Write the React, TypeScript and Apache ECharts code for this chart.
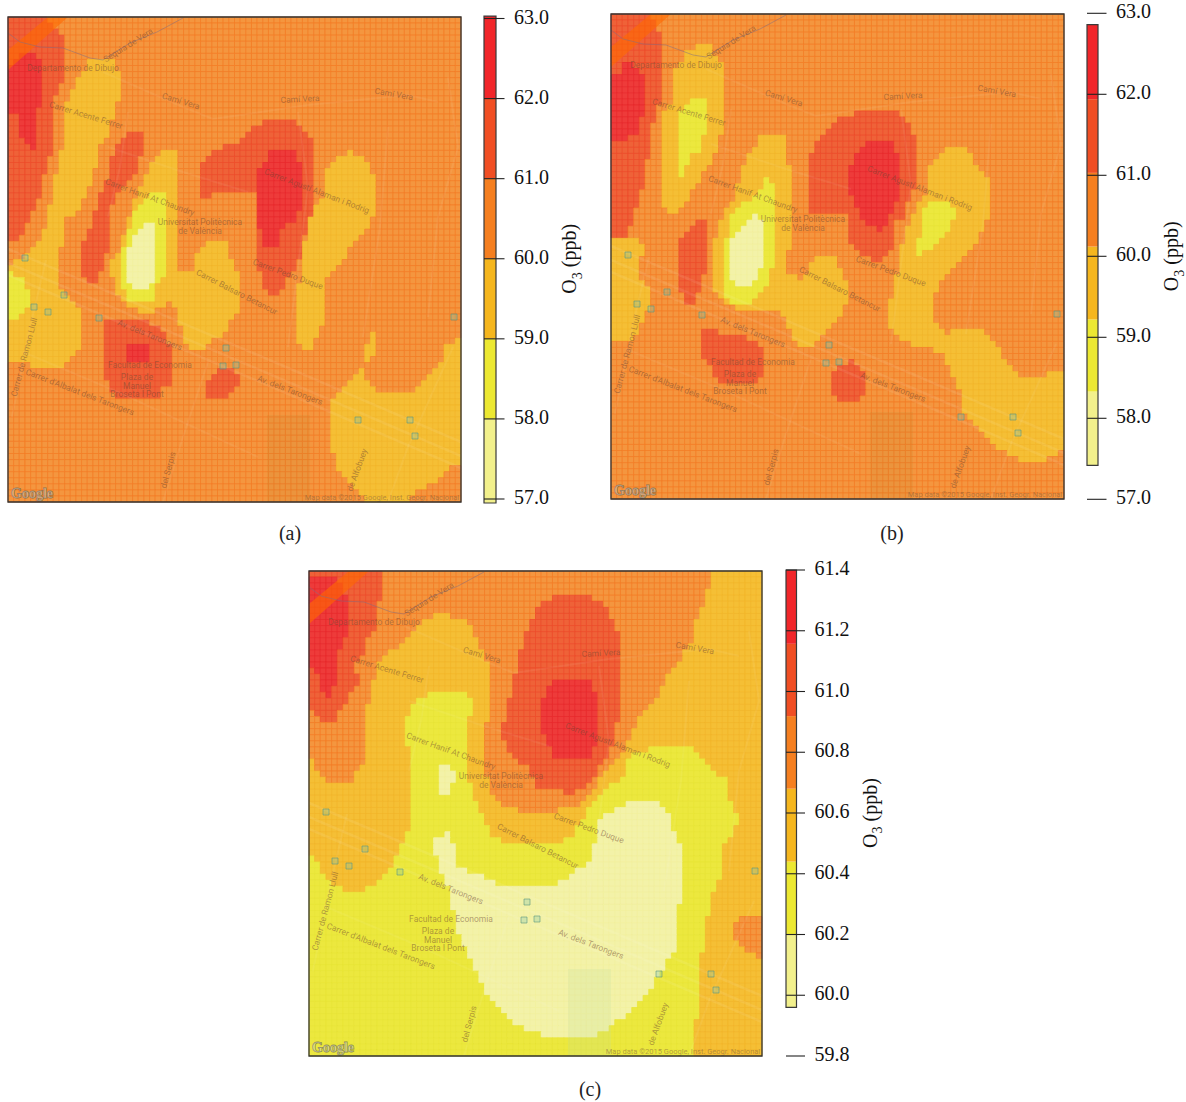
import React, { useEffect, useRef } from "react";
import * as echarts from "echarts";

type Pt = number[];
const MAP_W = 453;
const MAP_H = 485;
const CELLS = 80;

// ---------- contour outlines (map units, 0..453 / 0..485) ----------
const A_GOLD_WEST: Pt[] = [[84,42],[102,42],[107,48],[112,55],[112,83],[107,96],[102,115],[95,123],[90,146],[84,153],[84,170],[77,180],[72,193],[55,206],[55,225],[50,243],[50,268],[72,291],[72,333],[62,345],[55,351],[27,351],[22,346],[0,346],[0,248],[15,241],[34,223],[39,200],[45,180],[50,146],[55,126],[55,103],[62,78],[67,66],[74,55]];
const A_GOLD_SPOT: Pt[] = [[0,150],[6,150],[6,173],[0,173]];
const A_GOLD_CENTER: Pt[] = [[158,133],[169,133],[169,223],[169,256],[185,255],[185,243],[197,225],[219,225],[225,250],[232,258],[232,291],[219,313],[197,333],[182,333],[174,321],[170,290],[159,285],[145,298],[125,293],[107,273],[102,250],[112,233],[119,210],[129,180],[140,153],[147,143]];
const A_GOLD_EAST: Pt[] = [[342,133],[347,139],[357,141],[362,153],[368,165],[368,193],[362,210],[355,216],[349,225],[334,243],[322,256],[317,273],[317,303],[310,316],[304,333],[295,333],[290,328],[290,291],[293,243],[296,230],[301,206],[307,188],[317,180],[317,160],[324,146],[335,139]];
const A_GOLD_SPIKE: Pt[] = [[364,316],[368,316],[368,333],[362,346],[357,346],[357,328],[364,326]];
const A_GOLD_SOUTH: Pt[] = [[353,352],[357,361],[364,365],[369,376],[402,376],[420,360],[430,350],[439,330],[453,316],[453,446],[439,455],[427,465],[412,473],[402,485],[359,485],[350,473],[339,460],[329,450],[327,440],[324,433],[323,390],[329,378],[335,370],[345,360]];
const A_YELLOW_WEST: Pt[] = [[0,255],[12,260],[20,273],[20,293],[12,298],[9,303],[0,303]];
const A_YELLOW_CENTER: Pt[] = [[147,176],[158,176],[158,260],[147,271],[147,285],[124,285],[112,271],[112,250],[124,200],[135,183]];
const A_LIGHT_CENTER: Pt[] = [[135,206],[146,206],[146,265],[140,272],[124,272],[118,265],[118,250],[124,218],[135,210]];
const A_ORANGE_WEST: Pt[] = [[0,0],[39,0],[50,13],[56,23],[56,66],[50,66],[45,96],[45,130],[39,146],[35,170],[27,190],[20,203],[12,225],[0,225]];
const A_ORANGE_MID: Pt[] = [[119,115],[135,115],[135,133],[130,143],[130,156],[119,165],[107,181],[102,200],[102,225],[96,243],[94,256],[89,266],[79,266],[72,258],[72,243],[79,218],[84,205],[90,190],[95,173],[102,153],[107,133],[113,126]];
const A_ORANGE_EAST: Pt[] = [[192,156],[199,140],[212,133],[227,126],[232,126],[242,115],[260,102],[284,102],[295,108],[300,120],[306,126],[306,193],[300,206],[295,230],[289,250],[279,263],[270,278],[260,278],[255,263],[249,243],[249,178],[232,176],[209,176],[204,181],[192,181]];
const A_ORANGE_FAC: Pt[] = [[102,303],[130,303],[152,310],[164,330],[164,371],[152,371],[152,381],[107,381],[102,371],[95,358],[95,310]];
const A_ORANGE_SMALL: Pt[] = [[209,353],[225,353],[232,360],[232,371],[222,375],[220,382],[198,382],[198,365],[209,358]];
const A_RED_WEST: Pt[] = [[12,36],[27,36],[34,43],[34,90],[27,96],[27,130],[22,133],[15,123],[10,115],[9,96],[0,96],[0,55],[9,40]];
const A_RED_EAST: Pt[] = [[266,132],[284,132],[289,143],[295,151],[295,193],[284,206],[277,208],[271,218],[271,230],[255,230],[255,212],[249,212],[249,163],[255,146]];
const A_RED_FAC: Pt[] = [[119,328],[125,321],[130,328],[142,328],[142,346],[119,346]];

const B_GOLD_WEST: Pt[] = [[89,30],[100,30],[100,41],[116,48],[116,108],[111,118],[106,126],[106,136],[101,146],[94,159],[82,176],[77,189],[66,194],[66,199],[56,199],[49,186],[49,123],[54,99],[61,89],[61,71],[66,54],[77,36]];
const B_GOLD_LOW: Pt[] = [[0,224],[14,224],[30,225],[33,240],[26,256],[37,276],[37,299],[31,311],[26,316],[24,328],[0,328]];
const B_GOLD_CENTER: Pt[] = [[152,121],[174,121],[174,146],[180,156],[180,226],[174,256],[192,268],[196,256],[206,243],[222,243],[231,256],[236,269],[236,286],[231,304],[219,316],[202,333],[186,333],[174,304],[166,298],[156,298],[139,298],[127,296],[106,284],[101,266],[101,236],[117,189],[122,186],[134,149],[146,129]];
const B_GOLD_EAST: Pt[] = [[334,133],[356,133],[362,146],[373,159],[379,171],[379,206],[373,213],[367,229],[356,243],[339,256],[327,276],[322,289],[322,303],[334,319],[351,316],[372,316],[379,324],[389,336],[396,349],[407,359],[416,364],[436,364],[436,358],[453,358],[453,429],[446,441],[436,443],[436,449],[414,449],[402,443],[391,438],[379,426],[367,414],[351,394],[349,378],[340,359],[334,339],[312,334],[289,328],[282,319],[276,308],[276,296],[282,283],[282,266],[289,256],[289,239],[302,199],[316,176],[316,156]];
const B_YELLOW_WEST: Pt[] = [[77,86],[95,84],[95,119],[89,136],[84,139],[77,149],[71,163],[66,163],[66,106],[77,92]];
const B_YELLOW_CENTER: Pt[] = [[152,164],[162,169],[162,256],[157,269],[146,286],[139,291],[127,291],[117,286],[111,271],[111,256],[117,216],[122,199],[139,186],[152,173]];
const B_YELLOW_EAST: Pt[] = [[319,188],[341,188],[344,199],[339,216],[332,223],[326,233],[304,243],[304,233],[311,219],[311,203]];
const B_LIGHT_CENTER: Pt[] = [[141,199],[151,206],[151,256],[139,273],[124,273],[117,259],[117,233],[129,216],[141,206]];
const B_ORANGE_WEST: Pt[] = [[0,0],[38,0],[49,18],[49,90],[39,121],[39,135],[32,176],[26,189],[24,208],[14,224],[0,224]];
const B_ORANGE_MID: Pt[] = [[89,206],[95,208],[95,256],[89,276],[82,293],[77,293],[71,279],[66,279],[66,233],[77,219]];
const B_ORANGE_EAST: Pt[] = [[197,146],[206,131],[216,116],[229,103],[249,98],[282,97],[294,103],[299,114],[305,126],[305,173],[299,179],[294,203],[282,209],[282,236],[269,249],[256,244],[242,236],[236,213],[236,199],[197,199]];
const B_ORANGE_FAC: Pt[] = [[89,316],[106,316],[106,322],[134,322],[146,328],[151,334],[151,364],[146,371],[106,371],[106,364],[95,346],[89,333]];
const B_ORANGE_SMALL: Pt[] = [[237,346],[243,346],[243,353],[249,353],[254,359],[254,383],[248,383],[248,389],[226,389],[226,383],[220,383],[220,359],[226,353],[237,353]];
const B_RED_WEST: Pt[] = [[9,48],[21,48],[32,61],[32,103],[26,109],[26,121],[16,126],[4,126],[0,121],[0,66],[9,58]];
const B_RED_EAST: Pt[] = [[259,126],[277,126],[287,139],[287,186],[279,200],[279,213],[269,218],[259,213],[249,203],[242,183],[236,173],[236,159],[242,146],[252,136]];

const C_GOLD_MAIN: Pt[] = [[0,0],[453,0],[453,485],[385,485],[385,450],[391,449],[391,383],[397,382],[397,347],[403,346],[403,322],[408,321],[408,309],[414,304],[414,279],[419,269],[431,249],[418,222],[418,209],[403,199],[389,182],[379,176],[346,176],[323,186],[318,194],[314,206],[301,216],[288,229],[281,237],[274,249],[266,262],[254,272],[194,272],[181,262],[178,252],[164,222],[158,200],[158,149],[164,139],[164,126],[153,121],[124,121],[106,132],[101,139],[96,152],[96,169],[101,182],[101,249],[101,259],[91,279],[84,292],[73,309],[56,316],[56,321],[33,321],[33,316],[18,309],[6,286],[0,286]];
const C_ORANGE_MAIN: Pt[] = [[0,0],[403,0],[397,32],[391,44],[385,54],[385,66],[374,84],[368,96],[357,107],[351,127],[334,139],[328,152],[323,167],[311,186],[301,196],[284,219],[266,237],[228,242],[194,237],[181,222],[176,196],[176,159],[181,139],[181,96],[169,71],[158,48],[141,47],[138,42],[118,48],[106,59],[96,66],[89,77],[78,84],[68,97],[61,129],[56,152],[56,189],[48,199],[44,212],[21,212],[4,199],[1,169],[0,169]];
const C_ORANGE_EAST: Pt[] = [[431,346],[453,346],[453,389],[448,389],[448,382],[436,382],[431,374],[425,362],[425,352]];
const C_REDORANGE_WEST: Pt[] = [[0,0],[73,0],[73,32],[68,34],[68,61],[56,72],[56,82],[44,96],[51,107],[44,121],[39,129],[33,139],[26,151],[16,151],[11,146],[0,139]];
const C_REDORANGE_EAST: Pt[] = [[249,22],[278,22],[294,34],[306,52],[312,66],[312,146],[306,156],[304,176],[284,209],[266,222],[231,219],[218,197],[198,179],[193,162],[198,136],[204,116],[209,92],[215,72],[221,52],[231,36]];
const C_RED_WEST: Pt[] = [[0,4],[21,4],[33,17],[39,31],[39,66],[33,72],[28,86],[27,109],[21,126],[16,121],[11,121],[11,109],[0,96]];
const C_RED_EAST: Pt[] = [[278,108],[284,116],[289,126],[289,166],[284,187],[246,187],[238,172],[232,159],[232,132],[238,121],[249,108]];
const C_LIGHT_PATCH: Pt[] = [[130,194],[141,194],[141,201],[147,201],[147,212],[141,212],[141,224],[130,224]];
const C_LIGHT_BIG: Pt[] = [[124,267],[140,262],[146,279],[146,292],[151,299],[174,304],[184,311],[204,316],[241,316],[254,309],[264,304],[284,287],[289,249],[301,242],[323,231],[346,231],[356,241],[363,249],[368,269],[374,279],[374,326],[368,339],[368,382],[361,382],[358,394],[348,406],[341,419],[329,431],[318,444],[301,456],[283,467],[238,467],[211,456],[188,436],[174,416],[158,382],[148,359],[141,322],[131,299],[124,276]];

// levels: 0 57-58 light, 1 yellow, 2 gold, 3 orange, 4 red-orange, 5 red
const PANEL_A_BASE = 3;
const PANEL_A_LAYERS: [number, Pt[]][] = [[2,A_GOLD_WEST],[2,A_GOLD_SPOT],[2,A_GOLD_CENTER],[2,A_GOLD_EAST],[2,A_GOLD_SPIKE],[2,A_GOLD_SOUTH],[1,A_YELLOW_WEST],[1,A_YELLOW_CENTER],[0,A_LIGHT_CENTER],[4,A_ORANGE_WEST],[4,A_ORANGE_MID],[4,A_ORANGE_EAST],[4,A_ORANGE_FAC],[4,A_ORANGE_SMALL],[5,A_RED_WEST],[5,A_RED_EAST],[5,A_RED_FAC]];
const PANEL_B_BASE = 3;
const PANEL_B_LAYERS: [number, Pt[]][] = [[2,B_GOLD_WEST],[2,B_GOLD_LOW],[2,B_GOLD_CENTER],[2,B_GOLD_EAST],[1,B_YELLOW_WEST],[1,B_YELLOW_CENTER],[1,B_YELLOW_EAST],[0,B_LIGHT_CENTER],[4,B_ORANGE_WEST],[4,B_ORANGE_MID],[4,B_ORANGE_EAST],[4,B_ORANGE_FAC],[4,B_ORANGE_SMALL],[5,B_RED_WEST],[5,B_RED_EAST]];
const PANEL_C_BASE = 1;
const PANEL_C_LAYERS: [number, Pt[]][] = [[2,C_GOLD_MAIN],[3,C_ORANGE_MAIN],[3,C_ORANGE_EAST],[4,C_REDORANGE_WEST],[4,C_REDORANGE_EAST],[5,C_RED_WEST],[5,C_RED_EAST],[0,C_LIGHT_PATCH],[0,C_LIGHT_BIG]];

// ---------- colour-bar values ----------
const BAR_A_EDGES = [56.95, 58, 59, 60, 61, 62, 63.03];
const BAR_B_EDGES = [57.42, 58.33, 59.22, 60.12, 61.03, 61.94, 62.86];
const BAR_C_EDGES = [59.96, 60.2, 60.44, 60.68, 60.919, 61.157, 61.4];
const TICKS_AB = [57, 58, 59, 60, 61, 62, 63];
const TICKS_C = [59.8, 60, 60.2, 60.4, 60.6, 60.8, 61, 61.2, 61.4];

// ---------- background map ----------
const MAP_LABELS: [string, number, number, number][] = [
  ["Séquia de Vera", 120, 28, -32],
  ["Departamento de Dibujo", 65, 51, 0],
  ["Camí Vera", 173, 84, 17],
  ["Carrer Acente Ferrer", 78, 98, 17],
  ["Carrer Hanif At Chaundry", 142, 180, 20],
  ["Universitat Politècnica", 192, 205, 0],
  ["de València", 192, 214, 0],
  ["Camí Vera", 292, 82, -3],
  ["Camí Vera", 386, 77, 10],
  ["Carrer Agustí Alaman i Rodrig", 309, 174, 21],
  ["Carrer Pedro Duque", 280, 257, 20],
  ["Carrer Balsaro Betancur", 229, 275, 27],
  ["Av. dels Tarongers", 142, 318, 22],
  ["Av. dels Tarongers", 282, 373, 21],
  ["Facultad de Economia", 142, 348, 0],
  ["Plaza de", 129, 360, 0],
  ["Manuel", 129, 369, 0],
  ["Broseta I Pont", 129, 377, 0],
  ["Carrer d'Albalat dels Tarongers", 72, 375, 21],
  ["Carrer de Ramon Llull", 16, 340, -75],
  ["del Serpis", 160, 453, -75],
  ["de Alfobuey", 349, 453, -70],
];
const MAP_CREDIT: [string, number, number] = ["Map data ©2015 Google, Inst. Geogr. Nacional", 374, 480];
const GOOGLE_MARK: [string, number, number] = ["Google", 24, 476];
const STATIONS: Pt[] = [[17,241],[56,278],[26,290],[40,295],[91,301],[218,331],[215,349],[228,348],[446,300],[350,403],[402,403],[407,419]];
const SEQUIA_ROAD: Pt[] = [[0,16],[12,25],[32,30],[55,31],[82,41],[95,43],[122,26],[149,15],[175,1]];
const AVENUE_ROADS: Pt[][] = [
  [[0,232],[120,283],[292,356],[453,425]],
  [[0,246],[120,297],[292,370],[453,439]],
  [[0,258],[120,309],[292,382],[453,451]],
];
const SIDE_ROADS: Pt[][] = [
  [[38,243],[22,310],[4,400]],
  [[200,345],[175,420],[155,485]],
  [[15,335],[110,375],[250,440]],
  [[95,55],[175,90],[205,102],[300,88],[400,78],[430,85]],
  [[120,95],[112,150],[100,200]],
  [[440,60],[450,130],[430,200],[420,300]],
  [[380,110],[372,210],[355,320]],
  [[445,330],[400,430],[380,485]],
  [[290,95],[300,170],[280,330]],
  [[100,130],[175,155],[240,175]],
];
const GARDEN: Pt[] = [[259,398],[302,398],[302,485],[259,485]];
const CORNER_ROAD: Pt[] = [[40,0],[60,0],[0,53],[0,33]];

const CELL_FILL = ["#F3F2A8", "#ECE83E", "#F5BF35", "#F4963F", "#EF6238", "#EE3B3A"];
const CELL_LINE = ["#F1F09E", "#E8E436", "#F3B62A", "#F47E26", "#EE4C2A", "#E82A2C"];
const BAR_FILL = ["#F2F08C", "#ECE832", "#F5B61E", "#F57F20", "#F04E23", "#F1262A"];
const SERIF = "'Liberation Serif', serif";

function inside(x: number, y: number, poly: Pt[]) {
  let hit = false;
  for (let i = 0, j = poly.length - 1; i < poly.length; j = i++) {
    const [xi, yi] = poly[i];
    const [xj, yj] = poly[j];
    if (yi > y !== yj > y && x < ((xj - xi) * (y - yi)) / (yj - yi) + xi) hit = !hit;
  }
  return hit;
}

function buildCells(base: number, layers: [number, Pt[]][]) {
  const w = MAP_W / CELLS;
  const h = MAP_H / CELLS;
  const out: number[][] = [];
  for (let r = 0; r < CELLS; r++) {
    for (let c = 0; c < CELLS; c++) {
      let level = base;
      const cx = (c + 0.5) * w;
      const cy = (r + 0.5) * h;
      for (const [lv, poly] of layers) if (inside(cx, cy, poly)) level = lv;
      out.push([c * w, r * h, (c + 1) * w, (r + 1) * h, level]);
    }
  }
  return out;
}

function polyItem(api: any, pts: Pt[], style: any) {
  return { type: "polygon", shape: { points: pts.map((p) => api.coord(p)) }, style };
}

function roadItem(api: any, pts: Pt[], stroke: string, lineWidth: number) {
  return {
    type: "polyline",
    shape: { points: pts.map((p) => api.coord(p)) },
    style: { fill: "none", stroke, lineWidth },
  };
}

function mapSeries(idx: number, base: number, layers: [number, Pt[]][], isC: boolean) {
  const axes = { coordinateSystem: "cartesian2d", xAxisIndex: idx, yAxisIndex: idx, silent: true };
  return [
    {
      type: "custom", ...axes, z: 1,
      data: buildCells(base, layers),
      renderItem: (_: any, api: any) => {
        const a = api.coord([api.value(0), api.value(1)]);
        const b = api.coord([api.value(2), api.value(3)]);
        const lv = api.value(4);
        return {
          type: "rect",
          shape: { x: a[0], y: a[1], width: b[0] - a[0], height: b[1] - a[1] },
          style: { fill: CELL_FILL[lv], stroke: CELL_LINE[lv], lineWidth: 0.8 },
        };
      },
    },
    {
      type: "custom", ...axes, z: 2,
      data: [0],
      renderItem: (_: any, api: any) => ({
        type: "group",
        children: [
          polyItem(api, GARDEN, { fill: isC ? "rgba(195,225,160,0.22)" : "rgba(140,130,40,0.08)" }),
          ...AVENUE_ROADS.map((r) => roadItem(api, r, "rgba(255,255,255,0.08)", 2.5)),
          ...SIDE_ROADS.map((r) => roadItem(api, r, "rgba(255,255,255,0.06)", 2)),
          polyItem(api, CORNER_ROAD, { fill: "rgba(255,105,0,0.6)" }),
          roadItem(api, SEQUIA_ROAD, "rgba(130,110,130,0.5)", 1),
        ],
      }),
    },
    {
      type: "scatter", ...axes, z: 3,
      data: STATIONS,
      symbol: "rect",
      symbolSize: 6,
      itemStyle: { color: "rgba(130,200,170,0.4)", borderColor: "rgba(90,150,130,0.75)", borderWidth: 1 },
    },
    {
      type: "custom", ...axes, z: 4,
      data: MAP_LABELS.map((l) => [l[1], l[2]]),
      renderItem: (p: any, api: any) => {
        const l = MAP_LABELS[p.dataIndex];
        const at = api.coord([api.value(0), api.value(1)]);
        return {
          type: "text", x: at[0], y: at[1], rotation: (-l[3] * Math.PI) / 180,
          style: { text: l[0], fill: "rgba(110,70,50,0.5)", font: "8.5px Roboto, sans-serif", align: "center", verticalAlign: "middle" },
        };
      },
    },
    {
      type: "custom", ...axes, z: 4,
      data: [[MAP_CREDIT[1], MAP_CREDIT[2]]],
      renderItem: (_: any, api: any) => {
        const at = api.coord([api.value(0), api.value(1)]);
        return {
          type: "text", x: at[0], y: at[1],
          style: { text: MAP_CREDIT[0], fill: "rgba(130,95,60,0.55)", font: "7.5px Roboto, sans-serif", align: "center", verticalAlign: "middle" },
        };
      },
    },
    {
      type: "custom", ...axes, z: 4,
      data: [[GOOGLE_MARK[1], GOOGLE_MARK[2]]],
      renderItem: (_: any, api: any) => {
        const at = api.coord([api.value(0), api.value(1)]);
        return {
          type: "text", x: at[0], y: at[1],
          style: { text: GOOGLE_MARK[0], fill: "rgba(255,255,255,0.3)", stroke: "rgba(95,95,80,0.7)", lineWidth: 1, font: "bold 14px 'Liberation Serif', serif", align: "center", verticalAlign: "middle" },
        };
      },
    },
  ];
}

function barSeries(idx: number, edges: number[], ticks: number[]) {
  const axes = { coordinateSystem: "cartesian2d", xAxisIndex: idx, yAxisIndex: idx, silent: true };
  return [
    {
      type: "custom", ...axes, z: 1,
      data: edges.slice(0, -1).map((e, i) => [e, edges[i + 1], i]),
      renderItem: (_: any, api: any) => {
        const a = api.coord([0, api.value(1)]);
        const b = api.coord([1, api.value(0)]);
        return {
          type: "rect",
          shape: { x: a[0], y: a[1], width: b[0] - a[0], height: b[1] - a[1] },
          style: { fill: BAR_FILL[api.value(2)] },
        };
      },
    },
    {
      type: "custom", ...axes, z: 2,
      data: [[edges[0], edges[edges.length - 1]]],
      renderItem: (_: any, api: any) => {
        const a = api.coord([0, api.value(1)]);
        const b = api.coord([1, api.value(0)]);
        return {
          type: "rect",
          shape: { x: a[0], y: a[1], width: b[0] - a[0], height: b[1] - a[1] },
          style: { fill: "none", stroke: "#3a3a3a", lineWidth: 1.2 },
        };
      },
    },
    {
      type: "custom", ...axes, z: 3,
      data: ticks.map((t) => [t]),
      renderItem: (_: any, api: any) => {
        const a = api.coord([0, api.value(0)]);
        const b = api.coord([1, api.value(0)]);
        return { type: "line", shape: { x1: a[0], y1: a[1], x2: b[0] + 8.5, y2: b[1] }, style: { stroke: "#222", lineWidth: 1.1 } };
      },
    },
  ];
}

const MAP_GRIDS = [
  { left: 8, top: 17 },
  { left: 611, top: 14 },
  { left: 309, top: 571 },
];
const BAR_GRIDS = [
  { left: 484, top: 18.5, width: 12, height: 480.5 },
  { left: 1087, top: 13.3, width: 11, height: 486 },
  { left: 786, top: 570, width: 10.5, height: 486 },
];
const BAR_RANGES = [
  { min: 57, max: 63, interval: 1 },
  { min: 57, max: 63, interval: 1 },
  { min: 59.8, max: 61.4, interval: 0.2 },
];
const CAPTIONS: [string, number, number][] = [["(a)", 290, 533], ["(b)", 892, 533], ["(c)", 590, 1089]];

export default function App() {
  const ref = useRef<HTMLDivElement>(null);
  useEffect(() => {
    const chart = echarts.init(ref.current!, undefined, { renderer: "svg" });
    const grids: any[] = [
      ...MAP_GRIDS.map((g) => ({ ...g, width: MAP_W, height: MAP_H, outerBoundsMode: "none" })),
      ...BAR_GRIDS.map((g) => ({ ...g, outerBoundsMode: "none" })),
    ];
    const mapX = MAP_GRIDS.map((_, i) => ({ type: "value", gridIndex: i, min: 0, max: MAP_W, show: false }));
    const mapY = MAP_GRIDS.map((_, i) => ({ type: "value", gridIndex: i, min: 0, max: MAP_H, inverse: true, show: false }));
    const barX = BAR_GRIDS.map((_, i) => ({ type: "value", gridIndex: i + 3, min: 0, max: 1, show: false }));
    const barY = BAR_RANGES.map((r, i) => ({
      type: "value",
      gridIndex: i + 3,
      position: "right",
      ...r,
      splitLine: { show: false },
      axisLine: { show: false },
      axisTick: { show: false },
      axisLabel: {
        show: true, margin: 18, color: "#111", fontFamily: SERIF, fontSize: 20,
        formatter: (v: number) => "{t|" + v.toFixed(1) + "}",
        rich: { t: { fontFamily: SERIF, fontSize: 20, color: "#111", padding: [0, 0, 4, 0] } },
      },
      name: "{b|O}{s|3}{b| (ppb)}",
      nameLocation: "middle",
      nameGap: 63,
      nameRotate: 90,
      nameTextStyle: {
        rich: {
          b: { fontFamily: SERIF, fontSize: 20, color: "#111", padding: [0, 0, 5, 0], verticalAlign: "bottom" },
          s: { fontFamily: SERIF, fontSize: 14, color: "#111", verticalAlign: "bottom" },
        },
      },
    }));
    chart.setOption({
      animation: false,
      backgroundColor: "#fff",
      grid: grids,
      xAxis: [...mapX, ...barX],
      yAxis: [...mapY, ...barY],
      series: [
        ...mapSeries(0, PANEL_A_BASE, PANEL_A_LAYERS, false),
        ...mapSeries(1, PANEL_B_BASE, PANEL_B_LAYERS, false),
        ...mapSeries(2, PANEL_C_BASE, PANEL_C_LAYERS, true),
        ...barSeries(3, BAR_A_EDGES, TICKS_AB),
        ...barSeries(4, BAR_B_EDGES, TICKS_AB),
        ...barSeries(5, BAR_C_EDGES, TICKS_C),
      ],
      graphic: [
        ...MAP_GRIDS.map((g) => ({
          type: "rect", z: 50, silent: true,
          shape: { x: g.left, y: g.top, width: MAP_W, height: MAP_H },
          style: { fill: "none", stroke: "#333", lineWidth: 1.3 },
        })),
        ...CAPTIONS.map((c) => ({
          type: "text", z: 50, x: c[1], y: c[2], silent: true,
          style: { text: c[0], fill: "#222", font: "20px 'Liberation Serif', serif", align: "center", verticalAlign: "middle" },
        })),
      ],
    });
    return () => chart.dispose();
  }, []);
  return <div ref={ref} style={{ position: "absolute", left: 0, top: 0, width: 1186, height: 1102 }} />;
}
